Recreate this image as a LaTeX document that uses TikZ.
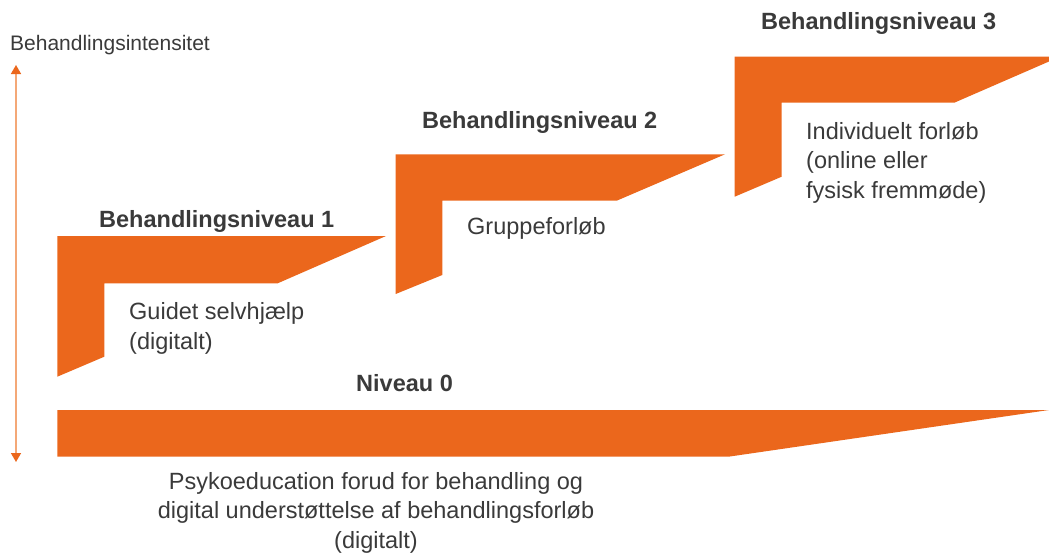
\documentclass[tikz,border=0pt]{standalone}
\usepackage{fontspec}
\setmainfont{Liberation Sans}
\usetikzlibrary{arrows.meta}
\definecolor{orng}{HTML}{EB671C}
\definecolor{lightorng}{HTML}{F4A877}
\definecolor{txt}{HTML}{3A3A3A}
\tikzset{
  band/.style={fill=orng},
  lbl/.style={inner sep=0pt, text=txt, font=\fontsize{23.5}{29.5}\selectfont, align=left},
  head/.style={inner sep=0pt, text=txt, font=\bfseries\fontsize{23.5}{29.5}\selectfont},
}
\begin{document}
\begin{tikzpicture}[x=1pt,y=-1pt]
\useasboundingbox (0,0) rectangle (1049,554);
% axis arrow
\coordinate (atop) at (16,65);
\coordinate (abot) at (16,462);
\draw[lightorng, line width=1.6pt, {Triangle[color=orng,width=10pt,length=9pt]}-{Triangle[color=orng,width=10pt,length=9pt]}] (atop) -- (abot);
\node[inner sep=0pt, text=txt, font=\fontsize{21}{24}\selectfont, anchor=base west] (axis) at (10,50) {Behandlingsintensitet};
% level 0 bar
\fill[band] (57.3,410) -- (1049,410) -- (728.5,456.7) -- (57.3,456.7) -- cycle;
% level 1
\fill[band] (57.3,236) -- (386,236) -- (277.7,283.3) -- (104.3,283.3) -- (104.3,356.7) -- (57.3,376.7) -- cycle;
% level 2
\fill[band] (395.7,154.3) -- (725,154.3) -- (616.7,200.7) -- (442.3,200.7) -- (442.3,275) -- (395.7,294) -- cycle;
% level 3
\fill[band] (734.7,56.7) -- (1049,56.7) -- (1049,61.5) -- (954.3,102.7) -- (781.7,102.7) -- (781.7,176.7) -- (734.7,196.7) -- cycle;
% headings
\node[head, anchor=base west] (h3) at (761,29.5) {Behandlingsniveau 3};
\node[head, anchor=base west] (h2) at (422,128) {Behandlingsniveau 2};
\node[head, anchor=base west] (h1) at (99,227) {Behandlingsniveau 1};
\node[head, anchor=base west] (h0) at (356,391) {Niveau 0};
% descriptions
\node[lbl, anchor=base west] (d1) at (129,349) {Guidet selvhjælp\\(digitalt)};
\node[lbl, anchor=base west] (d2) at (467,234) {Gruppeforløb};
\node[lbl, anchor=base west] (d3) at (806,198) {Individuelt forløb\\(online eller\\fysisk fremmøde)};
\node[lbl, align=center, anchor=base] (d0) at (376,548) {Psykoeducation forud for behandling og\\digital understøttelse af behandlingsforløb\\(digitalt)};
\end{tikzpicture}
\end{document}
